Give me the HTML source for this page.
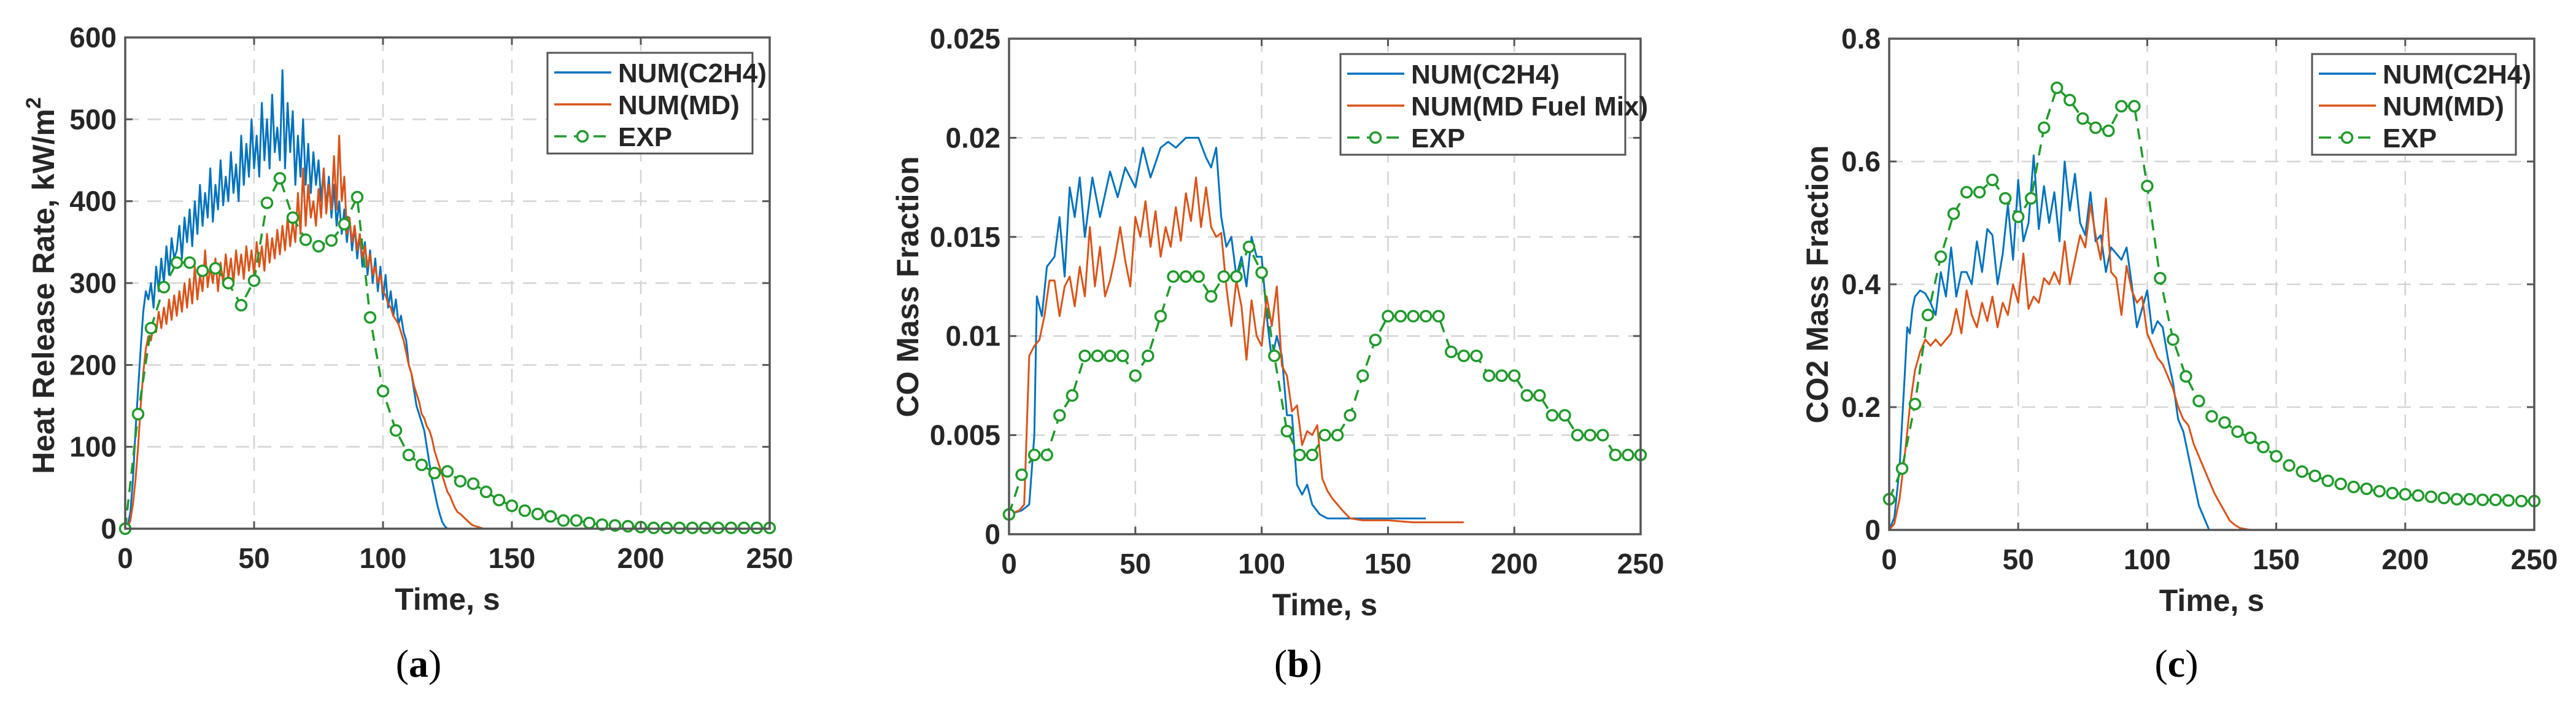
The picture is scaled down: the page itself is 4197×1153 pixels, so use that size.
<!DOCTYPE html>
<html><head><meta charset="utf-8">
<style>
html,body{margin:0;padding:0;background:#fff;}
svg{display:block;}
text{font-family:"Liberation Sans",Arial,sans-serif;font-weight:bold;fill:#262626;}
.cap{font-family:"Liberation Serif",serif;font-weight:normal;fill:#000;}
</style></head>
<body>
<svg id="fig" width="4197" height="1153" viewBox="0 0 4197 1153" xmlns="http://www.w3.org/2000/svg"></svg>
<script>
// ---------- Panel (a) data: heat release rate ----------
const aExpT = [0,5,10,15,20,25,30,35,40,45,50,55,60,65,70,75,80,85,90,95,100,105,110,115,120,125,130,135,140,145,150,155,160,165,170,175,180,185,190,195,200,205,210,215,220,225,230,235,240,245,250];
const aExpV = [0,140,245,295,325,325,315,318,300,273,303,398,428,380,353,345,352,372,405,258,168,120,90,78,68,70,58,55,45,35,28,22,18,15,10,10,7,5,4,3,2,1,1,1,1,1,1,1,1,1,1];
const aC2H4 = [0,5,20,60,120,170,220,265,290,280,300,270,320,290,330,300,345,310,355,330,340,370,330,380,350,390,345,400,360,420,370,410,380,440,375,420,390,450,395,430,400,460,410,445,400,480,420,470,430,500,440,480,430,520,450,500,440,530,460,490,450,560,440,520,460,510,420,480,430,500,420,470,410,460,420,450,400,440,390,430,380,420,370,400,360,390,350,380,340,370,330,360,320,350,310,340,300,330,290,320,280,310,270,290,260,280,250,260,240,230,200,190,170,150,140,130,120,100,80,60,45,30,18,8,3,0];
const aMD = [0,2,10,30,60,100,150,190,220,235,230,250,240,265,245,270,250,280,255,285,260,290,265,300,270,305,275,320,280,310,290,340,295,320,300,330,290,325,300,335,305,330,300,340,310,335,305,345,315,340,310,350,320,345,315,360,325,355,330,365,335,370,340,380,345,375,350,410,360,440,370,420,380,400,370,415,380,440,385,420,390,455,390,480,400,430,360,380,350,370,340,360,330,345,320,335,310,320,300,310,290,285,275,270,260,255,250,240,230,215,200,190,175,165,155,140,135,125,120,110,95,85,75,65,55,45,40,32,25,20,18,15,12,9,6,4,3,2,1,0,0];
const aTicksX = [0,50,100,150,200,250];
const aTicksY = [0,100,200,300,400,500,600];

// ---------- Panel (b) data: CO mass fraction ----------
const bExpT = [0,5,10,15,20,25,30,35,40,45,50,55,60,65,70,75,80,85,90,95,100,105,110,115,120,125,130,135,140,145,150,155,160,165,170,175,180,185,190,195,200,205,210,215,220,225,230,235,240,245,250];
const bExpV = [0.001,0.003,0.004,0.004,0.006,0.007,0.009,0.009,0.009,0.009,0.008,0.009,0.011,0.013,0.013,0.013,0.012,0.013,0.013,0.0145,0.0132,0.009,0.0052,0.004,0.004,0.005,0.005,0.006,0.008,0.0098,0.011,0.011,0.011,0.011,0.011,0.0092,0.009,0.009,0.008,0.008,0.008,0.007,0.007,0.006,0.006,0.005,0.005,0.005,0.004,0.004,0.004];
const bC2H4T = [0,5,8,10,11,13,15,18,20,22,24,26,28,30,33,36,40,43,46,50,53,56,60,63,66,70,75,78,80,82,84,86,88,90,92,94,96,98,100,102,104,106,108,110,112,114,116,118,120,123,126,130,140,150,165];
const bC2H4V = [0.001,0.0012,0.0015,0.005,0.012,0.011,0.0135,0.014,0.016,0.013,0.0175,0.016,0.018,0.015,0.018,0.016,0.0183,0.017,0.0185,0.0175,0.0195,0.018,0.0195,0.0198,0.0195,0.02,0.02,0.019,0.0185,0.0195,0.016,0.0145,0.015,0.013,0.014,0.0125,0.015,0.014,0.014,0.011,0.0088,0.01,0.009,0.006,0.006,0.0025,0.002,0.0025,0.0015,0.001,0.0008,0.0008,0.0008,0.0008,0.0008];
const bMDT = [0,4,6,8,10,12,14,16,18,20,22,24,26,28,30,32,34,36,38,40,42,44,46,48,50,52,54,56,58,60,62,64,66,68,70,72,74,76,78,80,82,84,86,88,90,92,94,96,98,100,102,104,106,108,110,112,114,116,118,120,122,124,126,128,130,132,135,140,150,160,170,180];
const bMDV = [0.001,0.0012,0.0015,0.009,0.0095,0.0098,0.011,0.0128,0.0128,0.011,0.0125,0.013,0.0115,0.0135,0.012,0.0155,0.0125,0.0145,0.012,0.0128,0.014,0.0155,0.0138,0.0125,0.016,0.015,0.0168,0.0145,0.0163,0.014,0.0155,0.0145,0.0165,0.0148,0.0172,0.0158,0.018,0.0155,0.0175,0.0155,0.015,0.0152,0.0125,0.0105,0.0128,0.0115,0.0088,0.0118,0.01,0.0095,0.012,0.0105,0.0125,0.0085,0.008,0.0062,0.0065,0.0045,0.0052,0.005,0.0055,0.0028,0.0022,0.0018,0.0015,0.0012,0.0008,0.0007,0.0007,0.0006,0.0006,0.0006];
const bTicksX = [0,50,100,150,200,250];
const bTicksY = [0,0.005,0.01,0.015,0.02,0.025];
const bTickLabels = ["0","0.005","0.01","0.015","0.02","0.025"];

// ---------- Panel (c) data: CO2 mass fraction ----------
const cExpT = [0,5,10,15,20,25,30,35,40,45,50,55,60,65,70,75,80,85,90,95,100,105,110,115,120,125,130,135,140,145,150,155,160,165,170,175,180,185,190,195,200,205,210,215,220,225,230,235,240,245,250];
const cExpV = [0.05,0.10,0.205,0.35,0.445,0.515,0.55,0.55,0.57,0.54,0.51,0.54,0.655,0.72,0.70,0.67,0.655,0.65,0.69,0.69,0.56,0.41,0.31,0.25,0.21,0.185,0.175,0.16,0.15,0.135,0.12,0.105,0.095,0.088,0.08,0.075,0.07,0.067,0.063,0.06,0.058,0.056,0.054,0.052,0.05,0.05,0.049,0.049,0.048,0.047,0.047];
const cC2H4T = [0,2,4,6,7,8,9,10,12,14,16,18,20,22,24,26,28,30,32,34,36,38,40,42,44,46,48,50,52,54,56,58,60,62,64,66,68,70,72,74,76,78,80,82,84,86,88,90,92,94,96,98,100,102,104,106,108,110,112,114,116,118,120,122,124,130,140];
const cC2H4V = [0,0.02,0.1,0.25,0.33,0.32,0.36,0.38,0.39,0.385,0.37,0.35,0.42,0.38,0.46,0.38,0.42,0.42,0.40,0.47,0.42,0.49,0.48,0.40,0.45,0.53,0.44,0.57,0.47,0.50,0.61,0.49,0.56,0.50,0.55,0.47,0.60,0.52,0.58,0.50,0.48,0.55,0.47,0.48,0.42,0.46,0.45,0.44,0.46,0.40,0.33,0.36,0.39,0.32,0.34,0.33,0.28,0.24,0.18,0.16,0.12,0.08,0.04,0.02,0,0,0];
const cMDT = [0,2,4,6,8,10,12,14,16,18,20,22,24,26,28,30,32,34,36,38,40,42,44,46,48,50,52,54,56,58,60,62,64,66,68,70,72,74,76,78,80,82,84,86,88,90,92,94,96,98,100,102,104,106,108,110,112,114,116,118,120,122,124,126,128,130,132,134,136,140,150,210];
const cMDV = [0,0.01,0.05,0.12,0.20,0.26,0.29,0.31,0.30,0.31,0.30,0.31,0.32,0.36,0.32,0.39,0.35,0.33,0.37,0.34,0.38,0.33,0.37,0.35,0.40,0.37,0.45,0.36,0.38,0.37,0.41,0.40,0.42,0.40,0.47,0.40,0.44,0.48,0.46,0.53,0.48,0.44,0.54,0.42,0.41,0.35,0.43,0.39,0.37,0.38,0.32,0.30,0.28,0.27,0.25,0.23,0.20,0.18,0.17,0.14,0.12,0.10,0.08,0.06,0.045,0.03,0.015,0.008,0.003,0,0,0];
const cTicksX = [0,50,100,150,200,250];
const cTicksY = [0,0.2,0.4,0.6,0.8];
const cTickLabels = ["0","0.2","0.4","0.6","0.8"];

const NS = "http://www.w3.org/2000/svg";
const svg = document.getElementById('fig');
const BLUE = "#0072BD", ORANGE = "#D95319", GREEN = "#1f9a2a";

function mk(tag, attrs, parent) {
  const e = document.createElementNS(NS, tag);
  for (const k in attrs) e.setAttribute(k, attrs[k]);
  (parent || svg).appendChild(e);
  return e;
}

function panel(cfg) {
  const g = mk('g', {});
  
  
  const sx = v => cfg.L + (v - cfg.xmin) / (cfg.xmax - cfg.xmin) * (cfg.R - cfg.L);
  const sy = v => cfg.B - (v - cfg.ymin) / (cfg.ymax - cfg.ymin) * (cfg.B - cfg.T);
  // grid
  const dash = cfg.dotted ? "4,8" : "22,14";
  cfg.ticksX.forEach(t => {
    if (t === cfg.xmin || t === cfg.xmax) return;
    const l = mk('line', {x1: sx(t), x2: sx(t), y1: cfg.T, y2: cfg.B, stroke: "#d4d4d4", "stroke-width": 2.5, "stroke-dasharray": dash}, g);
    
    
  });
  cfg.ticksY.forEach(t => {
    if (t === cfg.ymin || t === cfg.ymax) return;
    const l = mk('line', {x1: cfg.L, x2: cfg.R, y1: sy(t), y2: sy(t), stroke: "#d4d4d4", "stroke-width": 2.5, "stroke-dasharray": dash}, g);
    
    
  });
  // series
  function line(T, V, color, nm, dashed) {
    const d = T.map((t, i) => (i ? 'L' : 'M') + sx(t).toFixed(1) + ',' + sy(V[i]).toFixed(1)).join('');
    const p = mk('path', {d: d, fill: "none", stroke: color, "stroke-width": dashed ? 3.5 : 3, "stroke-linejoin": "round", "stroke-dasharray": dashed ? "18,12" : "none"}, g);
    
    
  }
  line(cfg.c2T, cfg.c2V, BLUE, 'series-num-c2h4-line');
  line(cfg.mdT, cfg.mdV, ORANGE, 'series-num-md-line');
  line(cfg.eT, cfg.eV, GREEN, 'series-exp-line', true);
  cfg.eT.forEach((t, i) => {
    const c = mk('circle', {cx: sx(t), cy: sy(cfg.eV[i]), r: 8.5, fill: "#fff", stroke: GREEN, "stroke-width": 3.5}, g);
    
    
  });
  // axes box
  const box = mk('rect', {x: cfg.L, y: cfg.T, width: cfg.R - cfg.L, height: cfg.B - cfg.T, fill: "none", stroke: "#555", "stroke-width": 3.5}, g);
  
  
  // ticks & labels
  cfg.ticksX.forEach(t => {
    mk('line', {x1: sx(t), x2: sx(t), y1: cfg.B, y2: cfg.B - 12, stroke: "#555", "stroke-width": 3}, g);
    mk('line', {x1: sx(t), x2: sx(t), y1: cfg.T, y2: cfg.T + 12, stroke: "#555", "stroke-width": 3}, g);
    const tx = mk('text', {x: sx(t), y: cfg.B + 64, "text-anchor": "middle", "font-size": 46}, g);
    tx.textContent = String(t);
    
    
  });
  cfg.ticksY.forEach((t, i) => {
    mk('line', {x1: cfg.L, x2: cfg.L + 12, y1: sy(t), y2: sy(t), stroke: "#555", "stroke-width": 3}, g);
    mk('line', {x1: cfg.R, x2: cfg.R - 12, y1: sy(t), y2: sy(t), stroke: "#555", "stroke-width": 3}, g);
    const ty = mk('text', {x: cfg.L - 14, y: sy(t) + 16, "text-anchor": "end", "font-size": 46}, g);
    ty.textContent = cfg.yLabels ? cfg.yLabels[i] : String(t);
    
    
  });
  // axis titles
  const xt = mk('text', {x: (cfg.L + cfg.R) / 2, y: cfg.B + 132, "text-anchor": "middle", "font-size": 50}, g);
  xt.textContent = "Time, s";
  
  
  const yt = mk('text', {x: 0, y: 0, "text-anchor": "middle", "font-size": 50, transform: `translate(${cfg.ylx},${cfg.yly}) rotate(-90)`}, g);
  if (cfg.ylabelSup) {
    yt.textContent = cfg.ylabel;
    const sp = mk('tspan', {dy: -22, "font-size": 34}, yt);
    sp.textContent = "2";
  } else yt.textContent = cfg.ylabel;
  
  
  // legend
  const lg = mk('g', {}, g);
  
  
  mk('rect', {x: cfg.lgX, y: cfg.T + 25, width: cfg.lgW, height: 164, fill: "#fff", stroke: "#555", "stroke-width": 3}, lg);
  const rows = [[cfg.leg[0], BLUE, false], [cfg.leg[1], ORANGE, false], ["EXP", GREEN, true]];
  rows.forEach((r, i) => {
    const y = cfg.T + 57 + i * 52;
    const en = mk('g', {}, lg);
    
    
    mk('line', {x1: cfg.lgX + 11, x2: cfg.lgX + 104, y1: y, y2: y, stroke: r[1], "stroke-width": 3.5, "stroke-dasharray": r[2] ? "20,12" : "none"}, en);
    if (r[2]) mk('circle', {cx: cfg.lgX + 57, cy: y, r: 8.5, fill: "#fff", stroke: GREEN, "stroke-width": 3.5}, en);
    const t = mk('text', {x: cfg.lgX + 115, y: y + 16, "font-size": 44}, en);
    t.textContent = r[0];
  });
  // caption
  const cap = mk('text', {x: cfg.capX, y: 1102, "text-anchor": "middle", "font-size": 64, class: "cap"}, g);
  cap.innerHTML = '(<tspan font-weight="bold">' + cfg.cap + '</tspan>)';
  
  
}

const aT = aC2H4.map((_, i) => i);
const aMT = aMD.map((_, i) => i);
panel({name: 'panel-a-heat-release-rate', L: 204, R: 1254, T: 61, B: 861, xmin: 0, xmax: 250, ymin: 0, ymax: 600,
  ticksX: aTicksX, ticksY: aTicksY,
  c2T: aT.concat([190]), c2V: aC2H4.concat([0]), mdT: aMT.concat([200]), mdV: aMD.concat([0]), eT: aExpT, eV: aExpV,
  ylabel: "Heat Release Rate, kW/m", ylabelSup: true, ylx: 88, yly: 465,
  lgX: 892, lgW: 334, leg: ["NUM(C2H4)", "NUM(MD)"], cap: "a", capX: 682});
panel({name: 'panel-b-co-mass-fraction', L: 1644, R: 2673, T: 63, B: 870, xmin: 0, xmax: 250, ymin: 0, ymax: 0.025,
  ticksX: bTicksX, ticksY: bTicksY, yLabels: bTickLabels,
  c2T: bC2H4T, c2V: bC2H4V, mdT: bMDT, mdV: bMDV, eT: bExpT, eV: bExpV,
  ylabel: "CO Mass Fraction", ylx: 1496, yly: 467,
  lgX: 2184, lgW: 464, leg: ["NUM(C2H4)", "NUM(MD Fuel Mix)"], cap: "b", capX: 2115});
panel({name: 'panel-c-co2-mass-fraction', L: 3078, R: 4129, T: 63, B: 863, xmin: 0, xmax: 250, ymin: 0, ymax: 0.8,
  ticksX: cTicksX, ticksY: cTicksY, yLabels: cTickLabels,
  c2T: cC2H4T, c2V: cC2H4V, mdT: cMDT, mdV: cMDV, eT: cExpT, eV: cExpV,
  ylabel: "CO2 Mass Fraction", ylx: 2978, yly: 463,
  lgX: 3767, lgW: 332, leg: ["NUM(C2H4)", "NUM(MD)"], cap: "c", capX: 3546});
</script>
</body></html>
